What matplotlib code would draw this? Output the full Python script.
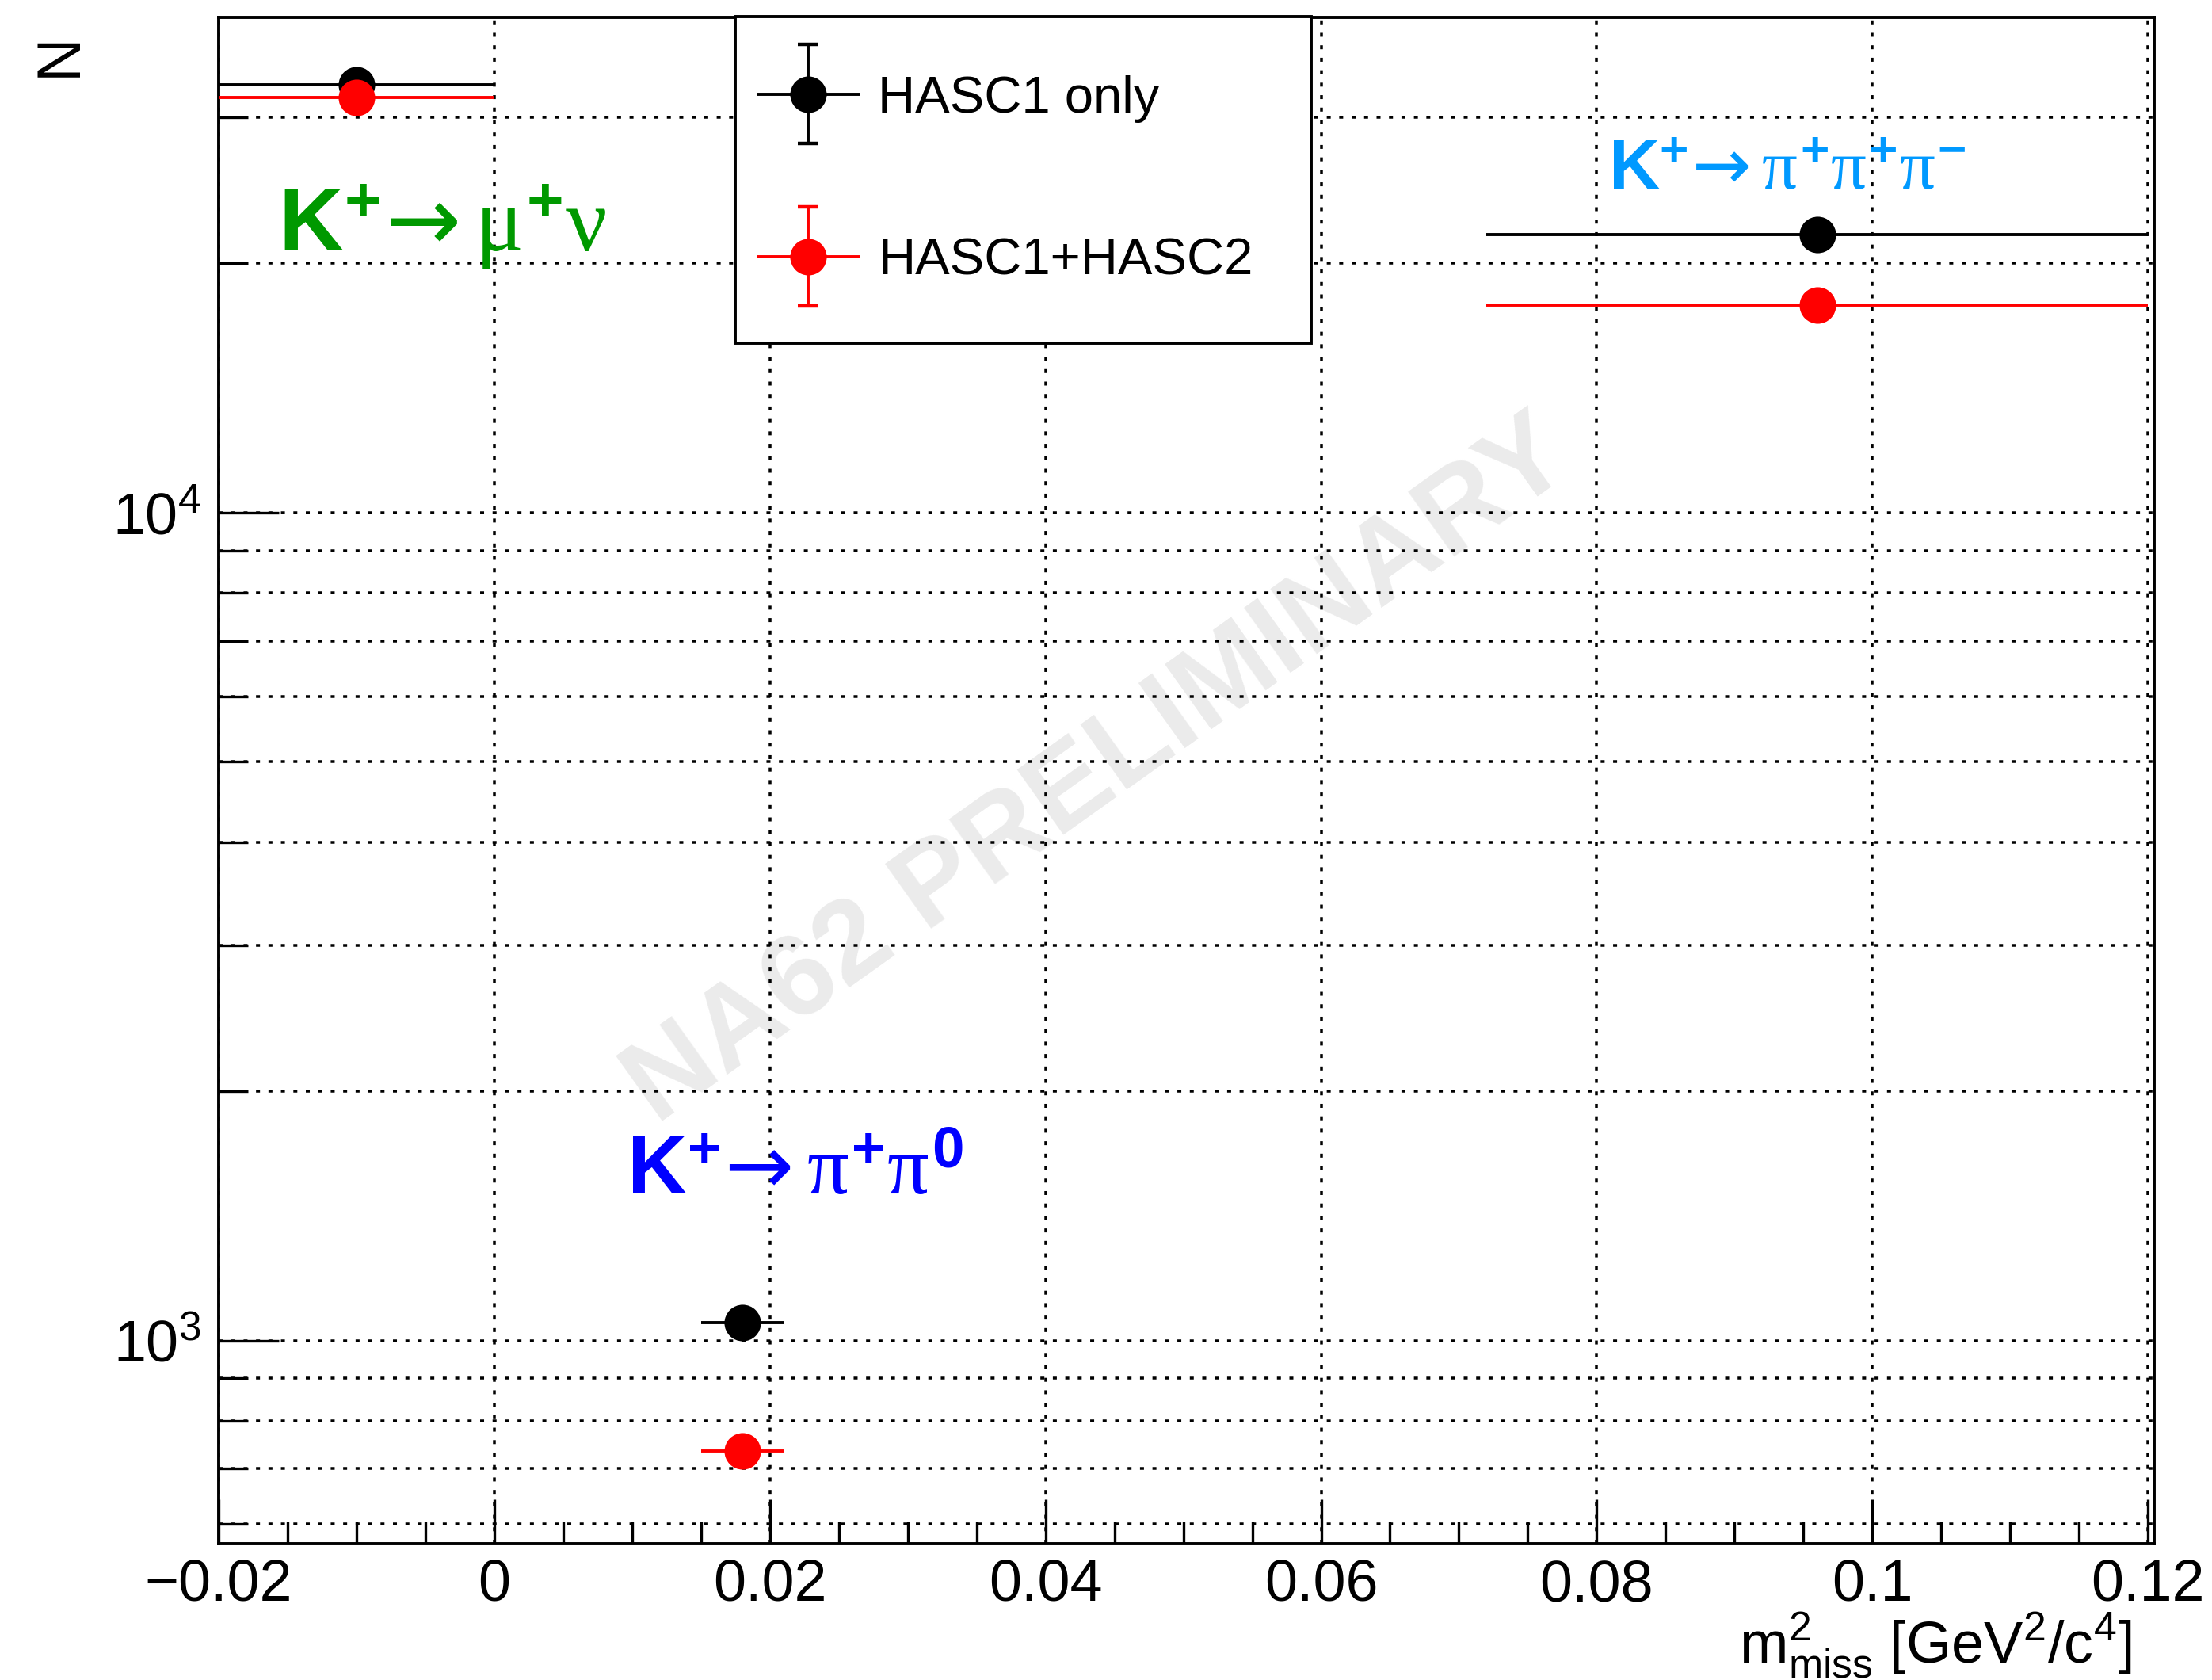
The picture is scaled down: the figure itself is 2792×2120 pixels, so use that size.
import numpy as np
import matplotlib
matplotlib.use("Agg")
import matplotlib.pyplot as plt
from matplotlib.ticker import (MultipleLocator, LogLocator, NullFormatter,
                               FuncFormatter, LogFormatterMathtext)
from matplotlib.legend_handler import HandlerErrorbar
from matplotlib.container import ErrorbarContainer
from matplotlib.lines import Line2D

# ---------------- data ----------------
decays = ["K+ -> mu+ nu", "K+ -> pi+ pi0", "K+ -> pi+ pi+ pi-"]
m2miss_center = [-0.010, 0.018, 0.096]
m2miss_halfwidth = [0.010, 0.003, 0.024]
n_hasc1_only = [32850, 1052, 21670]
n_hasc1_only_err = [180, 32, 150]
n_hasc1_hasc2 = [31750, 736, 17800]
n_hasc1_hasc2_err = [180, 27, 130]
series_labels = ["HASC1 only", "HASC1+HASC2"]
series_colors = ["black", "red"]
decay_texts = [r"$\mathbf{K}^{\mathbf{+}}\!\mathsf{\rightarrow}\mu^{\mathbf{+}}\nu$",
               r"$\mathbf{K}^{\mathbf{+}}\!\mathsf{\rightarrow}\pi^{\mathbf{+}}\pi^{\mathbf{0}}$",
               r"$\mathbf{K}^{\mathbf{+}}\!\mathsf{\rightarrow}\pi^{\mathbf{+}}\pi^{\mathbf{+}}\pi^{\mathbf{-}}$"]
decay_colors = ["#009900", "#0000ff", "#0099ff"]
x_label = r"$\mathrm{m^{2}_{miss}\ [GeV^{2}/c^{4}]}$"
y_label = "N"
watermark = "NA62 PRELIMINARY"

# ---------------- style ----------------
plt.rcParams.update({
    "font.family": ["Liberation Sans", "DejaVu Sans"],
    "mathtext.fontset": "custom",
    "mathtext.rm": "Liberation Sans",
    "mathtext.sf": "DejaVu Sans",
    "mathtext.it": "Liberation Serif",
    "mathtext.bf": "Liberation Sans:bold",
    "mathtext.default": "it",
})

W, H = 2792, 2120
DPI = 200
fig = plt.figure(figsize=(W / DPI, H / DPI), dpi=DPI)
ax_l, ax_r, ax_t, ax_b = 276, 2719, 21.5, 1948
ax = fig.add_axes([ax_l / W, 1 - ax_b / H, (ax_r - ax_l) / W, (ax_b - ax_t) / H])

ax.set_yscale("log")
ax.set_xlim(-0.02, 0.12045)
ax.set_ylim(568.4, 39670)

# data points
containers = []
for vals, errs, col in [(n_hasc1_only, n_hasc1_only_err, series_colors[0]),
                        (n_hasc1_hasc2, n_hasc1_hasc2_err, series_colors[1])]:
    c = ax.errorbar(m2miss_center, vals, xerr=m2miss_halfwidth, yerr=errs,
                    fmt="o", color=col, ms=16.6, mew=0, elinewidth=1.4,
                    capsize=2.1, capthick=1.4, zorder=3)
    containers.append(c)

# grid
grid_kw = dict(color="black", linewidth=1.26, linestyle=(0, (1.43, 3.06)))
ax.set_axisbelow(True)
ax.grid(which="major", axis="x", **grid_kw)
ax.grid(which="both", axis="y", **grid_kw)

# ticks
ax.xaxis.set_major_locator(MultipleLocator(0.02))
ax.xaxis.set_minor_locator(MultipleLocator(0.005))
ax.xaxis.set_major_formatter(FuncFormatter(
    lambda v, p: ("%g" % (round(v, 6) + 0.0)).replace("-", "\u2212")))
ax.yaxis.set_major_locator(LogLocator(base=10, subs=[1.0]))
ax.yaxis.set_minor_locator(LogLocator(base=10, subs=np.arange(2, 10)))
ax.yaxis.set_major_formatter(LogFormatterMathtext())
ax.yaxis.set_minor_formatter(NullFormatter())
ax.tick_params(which="both", direction="in", top=False, right=False,
               width=1.2, labelsize=26.5, color="black")
ax.xaxis.set_tick_params(which="major", length=20, pad=6.8)
ax.xaxis.set_tick_params(which="minor", length=10)
ax.yaxis.set_tick_params(which="major", length=27.4, pad=8)
ax.yaxis.set_tick_params(which="minor", length=13.3)
for s in ax.spines.values():
    s.set_linewidth(1.4)

# axis labels
ax.set_xlabel(x_label, loc="right", fontsize=26.6)
ax.xaxis.label.set_va("baseline")
ax.xaxis.set_label_coords(0.9885, -0.0779)
ax.set_ylabel(y_label, loc="top", fontsize=27.7)
ax.yaxis.set_label_coords(-0.0673, 0.9894)

# watermark
ax.text(0.4546, 0.5049, watermark, transform=ax.transAxes, rotation=35.5,
        rotation_mode="anchor", ha="center", va="center", fontsize=53,
        fontweight="bold", color="#ebebeb", zorder=0.2)

# decay labels
decay_pos = [(0.0307, 0.8466, 41), (0.2109, 0.2289, 37.5), (0.7179, 0.8871, 32)]
for txt, col, (px, py, fs) in zip(decay_texts, decay_colors, decay_pos):
    ax.text(px, py, txt, transform=ax.transAxes, color=col, fontsize=fs,
            ha="left", va="baseline", zorder=4)


# legend: vertical error bar with wide caps, horizontal bar without caps
class HandlerYCaps(HandlerErrorbar):
    def create_artists(self, legend, orig_handle, xdescent, ydescent,
                       width, height, fontsize, trans):
        arts = super().create_artists(legend, orig_handle, xdescent, ydescent,
                                      width, height, fontsize, trans)
        for a in arts:
            if isinstance(a, Line2D):
                if a.get_marker() == "|":
                    a.set_visible(False)
                elif a.get_marker() == "_":
                    a.set_markersize(9.4)
                    a.set_markeredgewidth(1.6)
        return arts


leg = ax.legend(containers, series_labels, loc="upper left",
                bbox_to_anchor=(0.2669, 1.0), borderaxespad=0, fontsize=23.5,
                frameon=True, fancybox=False, edgecolor="black", framealpha=1,
                borderpad=1.12, labelspacing=2.22, handlelength=0.58,
                handletextpad=1.06,
                handler_map={ErrorbarContainer: HandlerYCaps(
                    xerr_size=1.0, yerr_size=0.96, numpoints=1)})
leg.get_frame().set_linewidth(1.4)

fig.savefig("out.png", dpi=DPI)
